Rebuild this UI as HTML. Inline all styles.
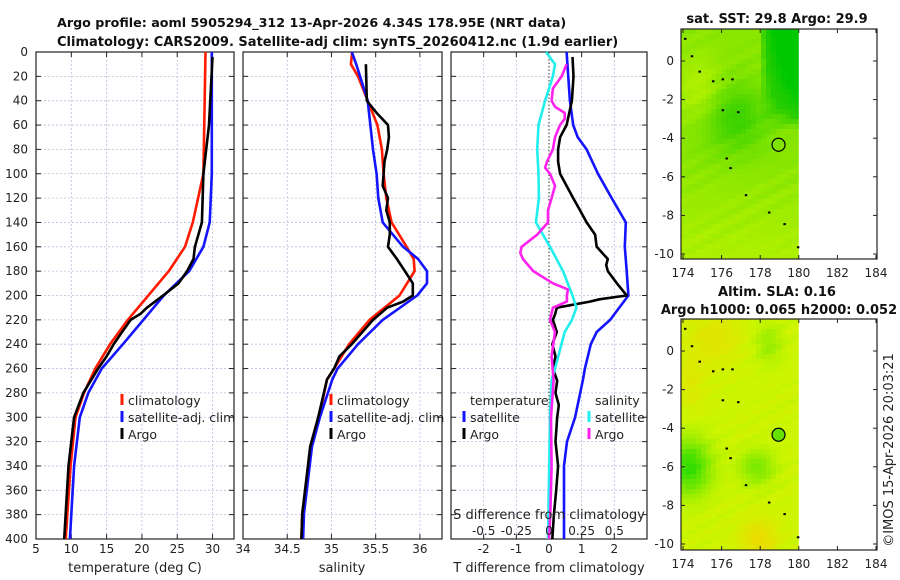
<!DOCTYPE html>
<html><head><meta charset="utf-8"><style>
body{margin:0;background:#fff;}
svg{display:block;font-family:"DejaVu Sans","Liberation Sans",sans-serif;}
</style></head><body>
<svg id="fig" width="900" height="580" viewBox="0 0 900 580" xmlns="http://www.w3.org/2000/svg">
<g id="maps"></g>
<g id="panels"></g>
<g font-weight="bold" font-size="13" text-anchor="middle" fill="#111">
<text x="57" y="27" text-anchor="start" font-size="12.7">Argo profile: aoml 5905294_312 13-Apr-2026 4.34S 178.95E (NRT data)</text>
<text x="57" y="46" text-anchor="start">Climatology: CARS2009. Satellite-adj clim: synTS_20260412.nc (1.9d earlier)</text>
<text x="777" y="23">sat. SST: 29.8 Argo: 29.9</text>
<text x="777" y="296">Altim. SLA: 0.16</text>
<text x="779" y="314">Argo h1000: 0.065 h2000: 0.052</text>
</g>
<text x="0" y="0" transform="translate(893,450) rotate(-90)" font-size="13" text-anchor="middle" fill="#222">©IMOS 15-Apr-2026 20:03:21</text>
</svg>
<script>
// ---- data ----
const depthTClim=[0,100,140,160,180,200,220,240,260,280,300,340,400];
const tClim=[29.0,28.7,27.2,26.1,23.8,20.9,18.0,15.5,13.4,11.8,10.6,9.9,9.2];
const depthTSat=[0,100,140,160,180,200,220,240,260,280,300,340,400];
const tSat=[29.9,29.9,29.6,28.7,26.7,23.1,20.2,17.3,14.3,12.4,11.2,10.4,9.8];
const depthTArgo=[4,60,100,140,160,170,180,190,200,210,215,220,230,240,250,260,280,300,340,400];
const tArgo=[30.0,29.5,28.7,28.5,27.5,27.3,26.4,25.2,23.0,20.7,19.8,18.4,17.2,16.0,15.0,13.8,11.7,10.4,9.6,9.0];
const depthSClim=[0,10,20,40,60,80,100,120,140,160,170,180,200,220,240,260,269,300,324,379,400];
const sClim=[35.235,35.22,35.30,35.41,35.52,35.57,35.59,35.62,35.68,35.85,35.93,35.94,35.77,35.43,35.20,35.03,34.95,34.86,34.77,34.67,34.66];
const depthSSat=[0,10,40,80,100,120,140,160,170,180,190,200,220,240,260,269,300,324,379,400];
const sSat=[35.23,35.28,35.41,35.47,35.51,35.53,35.58,35.81,35.98,36.08,36.08,35.97,35.58,35.30,35.07,35.01,34.87,34.78,34.69,34.68];
const depthSArgo=[10,40,50,60,70,80,90,100,110,120,130,140,150,160,170,180,190,200,205,210,220,240,250,260,269,300,324,379,400];
const sArgo=[35.39,35.40,35.51,35.64,35.65,35.63,35.60,35.59,35.58,35.64,35.62,35.66,35.66,35.64,35.74,35.83,35.92,35.92,35.81,35.63,35.47,35.23,35.09,35.03,34.95,34.85,34.76,34.67,34.66];
const depthDTSat=[0,40,60,70,80,100,120,140,160,180,200,220,230,240,260,269,300,320,340,400];
const dTSat=[0.54,0.64,0.74,0.88,1.15,1.5,1.92,2.35,2.32,2.38,2.43,1.87,1.46,1.28,1.1,1.04,0.8,0.55,0.46,0.46];
const depthDTArgo=[4,20,40,55,60,70,80,90,100,110,120,130,140,150,160,170,175,180,190,200,203,205,210,215,220,230,240,250,260,270,280,290,300,320,340,360,380,400];
const dTArgo=[0.72,0.75,0.7,0.58,0.54,0.34,0.28,0.28,0.34,0.54,0.74,0.95,1.15,1.41,1.46,1.8,1.75,1.8,2.08,2.38,1.56,1.25,0.24,0.19,0.12,0.24,0.1,0.2,0.12,0.25,0.2,0.3,0.25,0.2,0.28,0.22,0.15,0.1];
const depthDSSat=[0,10,20,40,60,80,100,120,140,160,180,200,210,220,230,260,269,300,400];
const dSSat=[-0.023,0.046,0.03,-0.03,-0.08,-0.09,-0.08,-0.077,-0.1,0.008,0.107,0.18,0.21,0.175,0.12,0.046,0.02,0.008,-0.008];
const depthDSArgo=[10,20,30,40,45,50,55,60,70,80,90,95,100,110,120,130,140,150,160,165,170,180,190,195,200,205,210,220,230,250,270,300,340,380,400];
const dSArgo=[0.135,0.097,0.03,0.02,0.046,0.12,0.12,0.084,0.046,0.03,-0.015,-0.03,0.008,0.046,0.02,-0.008,-0.008,-0.09,-0.21,-0.22,-0.2,-0.12,0.03,0.145,0.137,0.137,0.03,0.008,0.046,0.02,0.035,0.015,0.02,0.01,0.0];
const depthTicks=[0,20,40,60,80,100,120,140,160,180,200,220,240,260,280,300,320,340,360,380,400];
const tempTicks=[5,10,15,20,25,30];
const salTicks=[34,34.5,35,35.5,36];
const tDiffTicks=[-2,-1,0,1,2];
const sDiffTicks=[-0.5,-0.25,0,0.25,0.5];
const lonTicks=[174,176,178,180,182,184];
const latTicks=[0,-2,-4,-6,-8,-10];
const argoLon=178.95, argoLat=-4.34;

// ---- helpers ----
const NS='http://www.w3.org/2000/svg';
function mk(tag,attrs,parent){const e=document.createElementNS(NS,tag);for(const k in attrs)e.setAttribute(k,attrs[k]);parent.appendChild(e);return e;}
const Y0=52,Y1=539;
const yD=d=>Y0+(d/400)*(Y1-Y0);
const panels=document.getElementById('panels');
const maps=document.getElementById('maps');

function panel(name,x0,x1,vmin,vmax,ticks,gridTicks){
  const g=mk('g',{},panels);
  
  
  const sx=v=>x0+(v-vmin)/(vmax-vmin)*(x1-x0);
  depthTicks.forEach(d=>{if(d>0&&d<400){const l=mk('line',{x1:x0,x2:x1,y1:yD(d),y2:yD(d),stroke:'#b8bfe0','stroke-width':0.8,'stroke-dasharray':'2,2'},g);
    }
    mk('line',{x1:x0,x2:x0+5,y1:yD(d),y2:yD(d),stroke:'#222'},g);mk('line',{x1:x1-5,x2:x1,y1:yD(d),y2:yD(d),stroke:'#222'},g);});
  gridTicks.forEach(v=>{const l=mk('line',{x1:sx(v),x2:sx(v),y1:Y0,y2:Y1,stroke:'#b8bfe0','stroke-width':0.8,'stroke-dasharray':'2,2'},g);
    
    mk('line',{x1:sx(v),x2:sx(v),y1:Y0,y2:Y0+5,stroke:'#222'},g);mk('line',{x1:sx(v),x2:sx(v),y1:Y1-5,y2:Y1,stroke:'#222'},g);});
  ticks.forEach(v=>{const t=mk('text',{x:sx(v),y:553,'font-size':12,'text-anchor':'middle',fill:'#222'},g);t.textContent=String(v);
    });
  const r=mk('rect',{x:x0,y:Y0,width:x1-x0,height:Y1-Y0,fill:'none',stroke:'#222','stroke-width':1.2},g);
  
  return {g,sx};
}
function line(p,name,depths,vals,color,sx){
  const pts=depths.map((d,i)=>sx(vals[i]).toFixed(1)+','+yD(d).toFixed(1)).join(' ');
  const e=mk('polyline',{points:pts,fill:'none',stroke:color,'stroke-width':2.6,'stroke-linejoin':'round'},p.g);
  
  
}
function label(g,name,x,y,txt,size,anchor){const t=mk('text',{x:x,y:y,'font-size':size||13,'text-anchor':anchor||'start',fill:'#222'},g);t.textContent=txt;
  return t;}
function legend(g,name,x,y,color,txt){const l=mk('line',{x1:x,x2:x,y1:y-11,y2:y,stroke:color,'stroke-width':3},g);
  
  label(g,name,x+6,y,txt,12.5);}

depthTicks.forEach(d=>{const t=mk('text',{x:28,y:yD(d)+4,'font-size':12,'text-anchor':'end',fill:'#222'},panels);t.textContent=d;
  });

const p1=panel('temperature-panel',36,234,5,33.04,tempTicks,[10,15,20,25,30]);
line(p1,'temp-climatology-line',depthTClim,tClim,'#ff1a00',p1.sx);
line(p1,'temp-satellite-line',depthTSat,tSat,'#1414ff',p1.sx);
line(p1,'temp-argo-line',depthTArgo,tArgo,'#000',p1.sx);
label(p1.g,'temperature-axis-title',135,572,'temperature (deg C)',13,'middle');
legend(p1.g,'legend-climatology',122,405,'#ff1a00','climatology');
legend(p1.g,'legend-satellite-adj',122,422,'#1414ff','satellite-adj. clim');
legend(p1.g,'legend-argo',122,439,'#000','Argo');

const p2=panel('salinity-panel',243,442,34,36.25,salTicks,[34.5,35,35.5,36]);
line(p2,'sal-climatology-line',depthSClim,sClim,'#ff1a00',p2.sx);
line(p2,'sal-satellite-line',depthSSat,sSat,'#1414ff',p2.sx);
line(p2,'sal-argo-line',depthSArgo,sArgo,'#000',p2.sx);
label(p2.g,'salinity-axis-title',342,572,'salinity',13,'middle');
legend(p2.g,'legend-climatology-2',331,405,'#ff1a00','climatology');
legend(p2.g,'legend-satellite-adj-2',331,422,'#1414ff','satellite-adj. clim');
legend(p2.g,'legend-argo-2',331,439,'#000','Argo');

const p3=panel('difference-panel',451,647,-3,3,tDiffTicks,[-2,-1,1,2]);
const zl=mk('line',{x1:p3.sx(0),x2:p3.sx(0),y1:Y0,y2:Y1,stroke:'#333','stroke-width':1,'stroke-dasharray':'1.5,2'},p3.g);

const sxS=v=>p3.sx(v*4);
line(p3,'tdiff-satellite-line',depthDTSat,dTSat,'#1414ff',p3.sx);
line(p3,'tdiff-argo-line',depthDTArgo,dTArgo,'#000',p3.sx);
line(p3,'sdiff-satellite-line',depthDSSat,dSSat,'#22eeee',sxS);
line(p3,'sdiff-argo-line',depthDSArgo,dSArgo,'#ff22ee',sxS);
label(p3.g,'tdiff-axis-title',549,572,'T difference from climatology',13,'middle');
label(p3.g,'sdiff-axis-title',549,519,'S difference from climatology',13,'middle');
sDiffTicks.forEach(v=>{label(p3.g,'sdiff-tick-label',sxS(v),535,String(v),12,'middle');});
label(p3.g,'legend-temperature-header',470,405,'temperature',12.5);
legend(p3.g,'legend-tdiff-satellite',464,422,'#1414ff','satellite');
legend(p3.g,'legend-tdiff-argo',464,439,'#000','Argo');
label(p3.g,'legend-salinity-header',595,405,'salinity',12.5);
legend(p3.g,'legend-sdiff-satellite',589,422,'#22eeee','satellite');
legend(p3.g,'legend-sdiff-argo',589,439,'#ff22ee','Argo');

function mapPanel(name,top,bottom,y0lat,colorFn,circleFill){
  const g=mk('g',{},maps);
  
  
  const left=681,right=877;
  const sx=lon=>683+(lon-174)*19.3;
  const sy=lat=>y0lat-lat*19.3;
  const imgR=sx(180);
  const cell=5;
  for(let yy=top;yy<bottom;yy+=cell){for(let xx=left;xx<imgR;xx+=cell){
    const lon=174+(xx-683)/19.3, lat=(y0lat-yy)/19.3;
    mk('rect',{x:xx,y:yy,width:Math.min(cell,imgR-xx),height:Math.min(cell,bottom-yy),fill:colorFn(lon,lat,xx,yy)},g);}}
  const c=mk('circle',{cx:sx(argoLon),cy:sy(argoLat),r:6.5,fill:circleFill,stroke:'#000','stroke-width':1.2},g);
  
  [[174.05,1.2],[174.4,0.3],[174.8,-0.5],[175.5,-1.0],[176,-0.9],[176.5,-0.9],[176,-2.5],[176.8,-2.6],[176.2,-5.0],[176.4,-5.5],[177.2,-6.9],[178.4,-7.8],[179.2,-8.4],[179.9,-9.6]].forEach(p=>{
    mk('rect',{x:sx(p[0]),y:sy(p[1]),width:2.5,height:2,fill:'#000'},g);});
  const f=mk('rect',{x:left,y:top,width:right-left,height:bottom-top,fill:'none',stroke:'#222','stroke-width':1.2},g);
  
  lonTicks.forEach(v=>{mk('line',{x1:sx(v),x2:sx(v),y1:bottom,y2:bottom-4,stroke:'#222'},g);mk('line',{x1:sx(v),x2:sx(v),y1:top,y2:top+4,stroke:'#222'},g);
    label(g,'lon-tick-label',sx(v),bottom+18,String(v),12,'middle');});
  latTicks.forEach(v=>{mk('line',{x1:left,x2:left+4,y1:sy(v),y2:sy(v),stroke:'#222'},g);mk('line',{x1:right,x2:right-4,y1:sy(v),y2:sy(v),stroke:'#222'},g);
    label(g,'lat-tick-label',674,sy(v)+4,String(v),12,'end');});
}
function mixc(a,b,t){t=Math.max(0,Math.min(1,t));return 'rgb('+a.map((v,i)=>Math.round(v+(b[i]-v)*t)).join(',')+')';}
function tex(xx,yy){return 0.5*Math.sin(xx*1.7+yy*0.9)*Math.cos(yy*1.3-xx*0.6);}
mapPanel('sst-map',29,259,61,(lon,lat,xx,yy)=>{
  let g=0;
  g+=Math.max(0,(lon-177.8)/1.2)*Math.max(0,(lat+3.5)/2);
  g+=0.55*Math.exp(-((lon-176.5)**2/3+(lat+2.8)**2/3));
  g-=0.35*Math.exp(-((lon-174.8)**2/1.5+(lat+1.5)**2/3));
  g+=0.25+0.12*tex(xx,yy);
  g-=Math.max(0,(-lat-5)/6)*0.3;
  return g>0.9?mixc([40,205,0],[0,200,0],g-0.9):mixc([175,240,0],[40,205,0],g/0.9);
},'none');
mapPanel('sla-map',319,550,351,(lon,lat,xx,yy)=>{
  let g=0.35+0.08*tex(xx,yy);
  g+=0.75*Math.exp(-((lon-174.2)**2/1.2+(lat+5.9)**2/2));
  g+=0.4*Math.exp(-((lon-177.7)**2/0.8+(lat+5.9)**2/0.8));
  g+=0.25*Math.exp(-((lon-178.3)**2/0.5+(lat-0.5)**2/1));
  g-=0.3*Math.exp(-((lon-177.8)**2/1+(lat+9.6)**2/1));
  g-=0.2*Math.exp(-((lon-175.5)**2/2+(lat-0.8)**2/2));
  g-=0.15*Math.exp(-((lon-174.3)**2/0.6+(lat+1.5)**2/2));
  return g<0.35?mixc([240,215,0],[205,245,0],g/0.35):mixc([205,245,0],[40,220,0],(g-0.35)/0.8);
},'#66e000');
</script>
</body></html>
